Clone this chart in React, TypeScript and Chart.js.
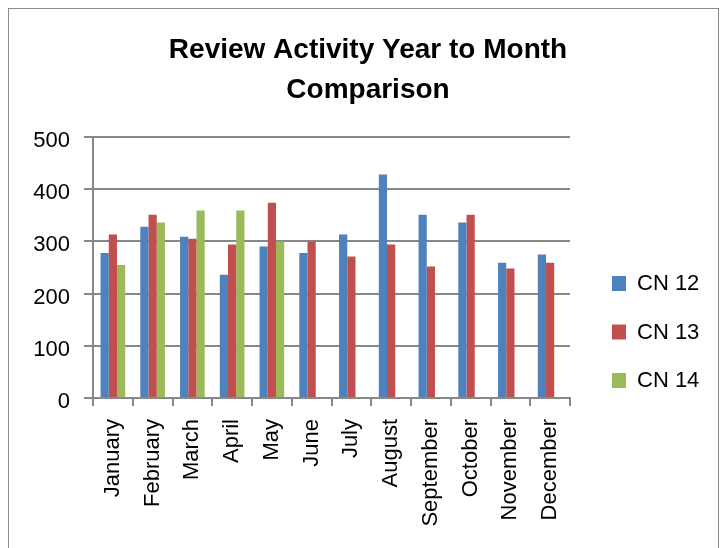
import React, { useEffect, useRef } from "react";
import { Chart, registerables } from "chart.js";

Chart.register(...registerables);

const titleLines = ["Review Activity Year to Month", "Comparison"];
const months = [
  "January", "February", "March", "April", "May", "June",
  "July", "August", "September", "October", "November", "December",
];
const seriesNames = ["CN 12", "CN 13", "CN 14"];
const cn12 = [278, 328, 309, 236, 290, 278, 313, 428, 351, 336, 259, 275];
const cn13 = [313, 351, 305, 294, 374, 300, 271, 294, 252, 351, 248, 259];
const cn14 = [255, 336, 359, 359, 300, null, null, null, null, null, null, null];
const seriesColors = ["#4F81BD", "#C0504D", "#9BBB59"];
const yTicks = { min: 0, max: 500, step: 100 };

const FONT = "'Liberation Sans', Arial, sans-serif";

const legendPlugin = {
  id: "sideLegend",
  afterDraw(chart: any) {
    const { ctx, chartArea } = chart;
    const x = chartArea.right + 42;
    let y = chartArea.top + 146;
    ctx.save();
    ctx.font = `22px ${FONT}`;
    ctx.textBaseline = "middle";
    ctx.textAlign = "left";
    chart.data.datasets.forEach((ds: any) => {
      ctx.fillStyle = ds.backgroundColor;
      ctx.fillRect(x, y - 7, 14, 15);
      ctx.fillStyle = "#000";
      ctx.fillText(ds.label, x + 25, y + 1);
      y += 48.5;
    });
    ctx.restore();
  },
};

export default function App() {
  const ref = useRef<HTMLCanvasElement>(null);
  useEffect(() => {
    if (!ref.current) return;
    const data = [cn12, cn13, cn14];
    const chart = new Chart(ref.current, {
      type: "bar",
      data: {
        labels: months,
        datasets: seriesNames.map((name, i) => ({
          label: name,
          data: data[i] as any,
          backgroundColor: seriesColors[i],
          categoryPercentage: 0.62,
          barPercentage: 1,
          yAxisID: "y",
        })),
      },
      options: {
        responsive: false,
        animation: false,
        layout: { padding: { left: 9, right: 0, top: 0, bottom: 0 } },
        plugins: {
          legend: { display: false },
          tooltip: { enabled: false },
          title: {
            display: true,
            text: titleLines,
            color: "#000",
            font: { family: FONT, size: 28, weight: "bold", lineHeight: 40 / 28 },
            padding: { top: 21, bottom: 27 },
          },
        },
        scales: {
          x: {
            grid: {
              display: true,
              drawOnChartArea: false,
              drawTicks: true,
              tickLength: 8,
              color: "#888888",
              lineWidth: 2,
              offset: true,
            },
            border: { display: true, color: "#888888", width: 2 },
            ticks: {
              color: "#000",
              font: { family: FONT, size: 22 },
              maxRotation: 90,
              minRotation: 90,
              autoSkip: false,
              padding: 13,
            },
            afterFit: (s: any) => {
              s.height = 150;
            },
          },
          y: {
            min: yTicks.min,
            max: yTicks.max,
            grid: {
              color: "#888888",
              lineWidth: 2,
              tickLength: 9,
            },
            border: { display: true, color: "#888888", width: 2 },
            ticks: {
              stepSize: yTicks.step,
              color: "#000",
              font: { family: FONT, size: 22 },
              padding: 14,
              labelOffset: 4,
            },
            afterFit: (s: any) => {
              s.width = 75;
            },
          },
          yR: {
            type: "linear",
            position: "right",
            display: true,
            grid: { display: false },
            border: { display: false },
            ticks: { display: false },
            afterFit: (s: any) => {
              s.width = 148;
            },
          },
        },
      },
      plugins: [legendPlugin],
    });
    return () => chart.destroy();
  }, []);

  return (
    <div
      style={{
        width: 711,
        height: 540,
        boxSizing: "border-box",
        border: "1px solid #8c8c8c",
        borderBottom: "none",
        background: "#fff",
        overflow: "hidden",
      }}
    >
      <canvas ref={ref} width={709} height={539} style={{ display: "block" }} />
    </div>
  );
}
